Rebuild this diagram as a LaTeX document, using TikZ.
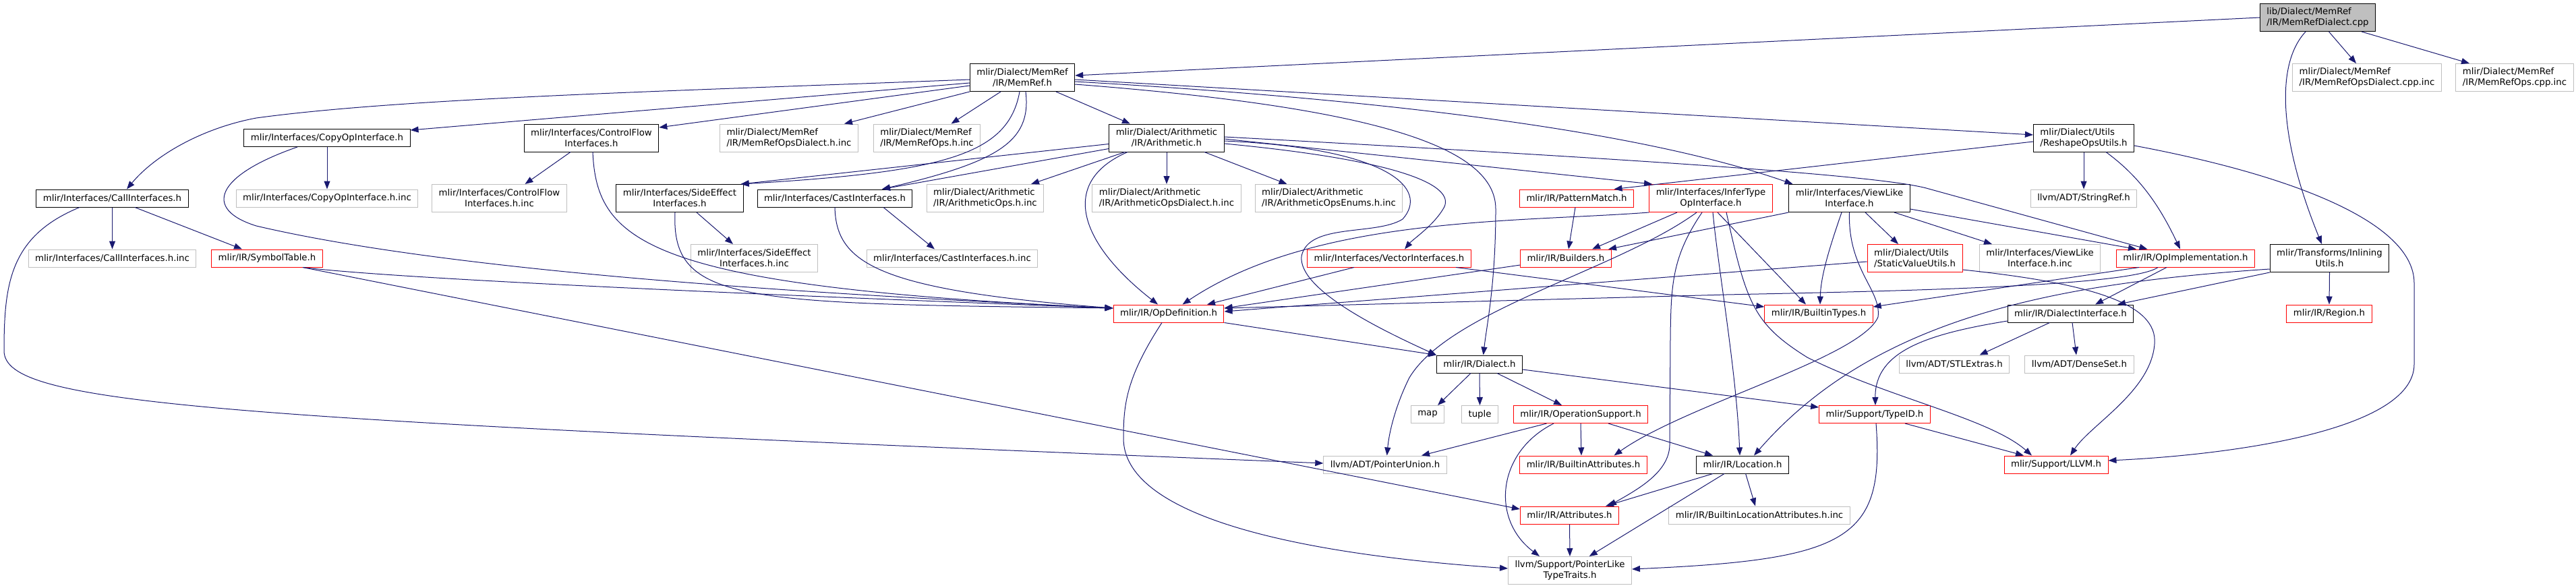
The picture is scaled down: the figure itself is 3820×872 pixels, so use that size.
\documentclass[tikz,border=0pt]{standalone}
\usepackage{fontspec}
\setmainfont{DejaVu Sans}
\usetikzlibrary{arrows.meta}
\definecolor{edgeblue}{HTML}{191970}
\definecolor{incgray}{HTML}{BFBFBF}
\definecolor{truncred}{HTML}{FF0000}

\begin{document}
\begin{tikzpicture}[
    x=1pt, y=-1pt,
    hdr/.style={rectangle, draw=black, line width=1pt, font=\fontsize{13.3}{16}\selectfont, inner xsep=10pt, inner ysep=4pt, minimum height=26pt, align=center},
    inc/.style={hdr, draw=incgray},
    trunc/.style={hdr, draw=truncred},
    srcfile/.style={hdr, fill=incgray},
    tall/.style={minimum height=41pt},
    lft/.style={align=left},
    dep/.style={-{Triangle[length=12pt, width=9pt]}, draw=edgeblue, line width=1pt},
]
\useasboundingbox (0,0) rectangle (3820,872);

% Files
\node[srcfile, tall, lft] (root) at (3437,26) {lib/Dialect/MemRef\\/IR/MemRefDialect.cpp};
\node[hdr, tall] (memref) at (1516,115) {mlir/Dialect/MemRef\\/IR/MemRef.h};
\node[inc, tall, lft] (opsDialCpp) at (3510,115) {mlir/Dialect/MemRef\\/IR/MemRefOpsDialect.cpp.inc};
\node[inc, tall, lft] (opsCpp) at (3729,115) {mlir/Dialect/MemRef\\/IR/MemRefOps.cpp.inc};

\node[hdr] (copyop) at (485,204.5) {mlir/Interfaces/CopyOpInterface.h};
\node[hdr, tall] (cflow) at (877,204.5) {mlir/Interfaces/ControlFlow\\Interfaces.h};
\node[inc, tall, lft] (opsDialH) at (1170,204.5) {mlir/Dialect/MemRef\\/IR/MemRefOpsDialect.h.inc};
\node[inc, tall, lft] (opsH) at (1374.5,204.5) {mlir/Dialect/MemRef\\/IR/MemRefOps.h.inc};
\node[hdr, tall] (arith) at (1730,204.5) {mlir/Dialect/Arithmetic\\/IR/Arithmetic.h};
\node[hdr, tall, lft] (reshape) at (3090,204.5) {mlir/Dialect/Utils\\/ReshapeOpsUtils.h};

\node[hdr] (callif) at (166.5,294) {mlir/Interfaces/CallInterfaces.h};
\node[inc] (copyopinc) at (485,294) {mlir/Interfaces/CopyOpInterface.h.inc};
\node[inc, tall] (cflowinc) at (740.5,294) {mlir/Interfaces/ControlFlow\\Interfaces.h.inc};
\node[hdr, tall] (sideeff) at (1008,294) {mlir/Interfaces/SideEffect\\Interfaces.h};
\node[hdr] (castif) at (1238,294) {mlir/Interfaces/CastInterfaces.h};
\node[inc, tall, lft] (arithOps) at (1461,294) {mlir/Dialect/Arithmetic\\/IR/ArithmeticOps.h.inc};
\node[inc, tall, lft] (arithDial) at (1730,294) {mlir/Dialect/Arithmetic\\/IR/ArithmeticOpsDialect.h.inc};
\node[inc, tall, lft] (arithEnums) at (1970.5,294) {mlir/Dialect/Arithmetic\\/IR/ArithmeticOpsEnums.h.inc};
\node[trunc] (patmatch) at (2338,294) {mlir/IR/PatternMatch.h};
\node[trunc, tall] (infer) at (2537,294) {mlir/Interfaces/InferType\\OpInterface.h};
\node[hdr, tall] (viewlike) at (2742.5,294) {mlir/Interfaces/ViewLike\\Interface.h};
\node[inc] (stringref) at (3090,294) {llvm/ADT/StringRef.h};

\node[inc] (callifinc) at (166.5,383) {mlir/Interfaces/CallInterfaces.h.inc};
\node[trunc] (symtab) at (396,383) {mlir/IR/SymbolTable.h};
\node[inc, tall] (sideeffinc) at (1118.5,383) {mlir/Interfaces/SideEffect\\Interfaces.h.inc};
\node[inc] (castifinc) at (1412,383) {mlir/Interfaces/CastInterfaces.h.inc};
\node[trunc] (vector) at (2060,383) {mlir/Interfaces/VectorInterfaces.h};
\node[trunc] (builders) at (2322,383) {mlir/IR/Builders.h};
\node[trunc, tall, lft] (staticval) at (2839.6,383) {mlir/Dialect/Utils\\/StaticValueUtils.h};
\node[inc, tall] (viewlikeinc) at (3025,383) {mlir/Interfaces/ViewLike\\Interface.h.inc};
\node[trunc] (opimpl) at (3241,383) {mlir/IR/OpImplementation.h};
\node[hdr, tall] (inlining) at (3454.5,383) {mlir/Transforms/Inlining\\Utils.h};

\node[trunc] (opdef) at (1733,465) {mlir/IR/OpDefinition.h};
\node[trunc] (btypes) at (2697,465) {mlir/IR/BuiltinTypes.h};
\node[hdr] (dialif) at (3070.5,465) {mlir/IR/DialectInterface.h};
\node[trunc] (region) at (3454,465) {mlir/IR/Region.h};

\node[hdr] (dialect) at (2194,540) {mlir/IR/Dialect.h};
\node[inc] (stlextras) at (2898,540) {llvm/ADT/STLExtras.h};
\node[inc] (denseset) at (3083.5,540) {llvm/ADT/DenseSet.h};

\node[inc] (map) at (2117,614.5) {map};
\node[inc] (tuple) at (2194.5,614.5) {tuple};
\node[trunc] (opsupport) at (2344,614.5) {mlir/IR/OperationSupport.h};
\node[trunc] (typeid) at (2780,614.5) {mlir/Support/TypeID.h};

\node[inc] (ptrunion) at (2054,689) {llvm/ADT/PointerUnion.h};
\node[trunc] (battrs) at (2348,689) {mlir/IR/BuiltinAttributes.h};
\node[hdr] (location) at (2584,689) {mlir/IR/Location.h};
\node[trunc] (llvm) at (3049,689) {mlir/Support/LLVM.h};

\node[trunc] (attrs) at (2327.5,764) {mlir/IR/Attributes.h};
\node[inc] (blocattrs) at (2609,764) {mlir/IR/BuiltinLocationAttributes.h.inc};
\node[inc, tall] (ptrlike) at (2328,846) {llvm/Support/PointerLike\\TypeTraits.h};

% Includes
% source file
\draw[dep] (root.west) -- ([yshift=3pt]memref.east);
\draw[dep] ([xshift=16.5pt]root.south) -- ([xshift=-16pt]opsDialCpp.north);
\draw[dep] ([xshift=65pt]root.south) -- ([xshift=-67pt]opsCpp.north);
\draw[dep] ([xshift=-18pt]root.south) .. controls (3370,100) and (3385,220) .. ([xshift=-11.5pt]inlining.north);

% MemRef.h
\draw[dep] ([yshift=-3pt]memref.west) .. controls (1000,135) and (600,145) .. (380,175) .. controls (300,190) and (230,230) .. ([xshift=21.5pt]callif.north);
\draw[dep] ([yshift=-8pt]memref.west) -- ([yshift=11.5pt]copyop.east);
\draw[dep] ([yshift=-12pt]memref.west) -- ([yshift=15.5pt]cflow.east);
\draw[dep] (memref.south west) -- ([xshift=82pt]opsDialH.north);
\draw[dep] ([xshift=-32pt]memref.south) -- ([xshift=36pt]opsH.north);
\draw[dep] ([xshift=-4pt]memref.south) .. controls (1495,230) and (1400,255) .. ([xshift=-4pt]sideeff.north east);
\draw[dep] ([xshift=5pt]memref.south) .. controls (1530,210) and (1480,240) .. ([xshift=70pt]castif.north);
\draw[dep] ([xshift=50pt]memref.south) -- ([xshift=-54pt]arith.north);
\draw[dep] ([yshift=-3pt]memref.east) -- ([yshift=4.5pt]reshape.west);
\draw[dep] ([yshift=-6pt]memref.east) .. controls (2100,150) and (2450,200) .. ([xshift=-84pt]viewlike.north);
\draw[dep] ([yshift=-10pt]memref.east) .. controls (2050,160) and (2218,220) .. (2218,310) .. controls (2218,420) and (2205,480) .. ([xshift=5.6pt]dialect.north);

% Arithmetic.h
\draw[dep] ([xshift=-62pt]arith.south) -- ([xshift=68pt]arithOps.north);
\draw[dep] (arith.south) -- (arithDial.north);
\draw[dep] ([xshift=56pt]arith.south) -- ([xshift=-62pt]arithEnums.north);
\draw[dep] ([yshift=-16pt]arith.west) -- ([xshift=70pt]castif.north);
\draw[dep] ([yshift=-9pt]arith.west) -- ([xshift=-4pt]sideeff.north east);
\draw[dep] ([xshift=-58pt]arith.south) .. controls (1570,270) and (1600,360) .. ([xshift=-16pt]opdef.north);
\draw[dep] ([yshift=1.5pt]arith.east) .. controls (2500,240) and (2800,262) .. (2860,280) -- ([xshift=-56.5pt]opimpl.north);
\draw[dep] ([yshift=-1.5pt]arith.east) -- ([xshift=-87pt]infer.north);
\draw[dep] ([yshift=-4.5pt]arith.east) .. controls (2060,220) and (2120,280) .. (2080,325) .. controls (2040,350) and (1940,330) .. (1930,380) .. controls (1925,430) and (2050,490) .. (dialect.north west);
\draw[dep] ([yshift=-8.5pt]arith.east) .. controls (2100,240) and (2160,280) .. (2140,310) .. controls (2125,335) and (2095,355) .. ([xshift=23pt]vector.north);

% interfaces
\draw[dep] (copyop.south) -- (copyopinc.north);
\draw[dep] ([xshift=-44pt]copyop.south) .. controls (320,260) and (300,310) .. (380,335) .. controls (700,410) and (1300,440) .. ([yshift=8pt]opdef.west);
\draw[dep] ([xshift=-31pt]cflow.south) -- ([xshift=38pt]cflowinc.north);
\draw[dep] ([xshift=2pt]cflow.south) .. controls (885,360) and (960,425) .. ([yshift=8pt]opdef.west);
\draw[dep] ([xshift=25pt]sideeff.south) -- ([xshift=-31.5pt]sideeffinc.north);
\draw[dep] ([xshift=-7pt]sideeff.south) .. controls (995,450) and (1100,450) .. ([yshift=8pt]opdef.west);
\draw[dep] ([xshift=72pt]castif.south) -- ([xshift=-26pt]castifinc.north);
\draw[dep] (castif.south) .. controls (1240,390) and (1300,430) .. ([yshift=8pt]opdef.west);
\draw[dep] (callif.south) -- (callifinc.north);
\draw[dep] ([xshift=33.5pt]callif.south) -- ([xshift=-37pt]symtab.north);
\draw[dep] ([xshift=-48.5pt]callif.south) .. controls (15,350) and (6,420) .. (6,520) .. controls (6,600) and (300,620) .. ([yshift=2pt]ptrunion.west);
\draw[dep] ([xshift=53pt]symtab.south) .. controls (600,415) and (1200,440) .. ([yshift=8pt]opdef.west);
\draw[dep] ([xshift=53pt]symtab.south) -- ([yshift=9pt]attrs.west);

% IR core
\draw[dep] (opdef.south east) -- (dialect.north west);
\draw[dep] ([xshift=-10pt]opdef.south) .. controls (1670,560) and (1666,600) .. (1666,650) .. controls (1666,760) and (1900,820) .. ([yshift=3pt]ptrlike.west);
\draw[dep] ([xshift=-13pt]dialect.south) -- ([xshift=15pt]map.north);
\draw[dep] (dialect.south) -- (tuple.north);
\draw[dep] ([xshift=26pt]dialect.south) -- ([xshift=-28pt]opsupport.north);
\draw[dep] ([yshift=-8pt]dialect.east) -- ([yshift=10.5pt]typeid.west);
\draw[dep] ([xshift=-50.5pt]opsupport.south) -- ([xshift=54pt]ptrunion.north);
\draw[dep] (opsupport.south) -- ([xshift=-3pt]battrs.north);
\draw[dep] ([xshift=41pt]opsupport.south) -- ([xshift=-44pt]location.north);
\draw[dep] ([xshift=-40pt]opsupport.south) .. controls (2220,670) and (2210,770) .. ([xshift=-45pt]ptrlike.north);
\draw[dep] ([xshift=-44pt]location.south) -- ([xshift=53.5pt]attrs.north);
\draw[dep] ([xshift=-27pt]location.south) -- ([xshift=28.7pt]ptrlike.north);
\draw[dep] ([xshift=4.6pt]location.south) -- ([xshift=-6pt]blocattrs.north);
\draw[dep] (attrs.south) -- (ptrlike.north);
\draw[dep] ([xshift=45pt]typeid.south) -- ([xshift=-48pt]llvm.north);
\draw[dep] ([xshift=2pt]typeid.south) .. controls (2795,800) and (2740,830) .. ([yshift=2pt]ptrlike.east);
\draw[dep] ([xshift=-31pt]dialif.south) -- ([xshift=37.5pt]stlextras.north);
\draw[dep] ([xshift=2.5pt]dialif.south) -- ([xshift=-4.5pt]denseset.north);
\draw[dep] ([yshift=-11pt]dialif.west) .. controls (2860,495) and (2780,520) .. ([xshift=1pt]typeid.north);

% ReshapeOpsUtils.h
\draw[dep] (reshape.south) -- (stringref.north);
\draw[dep] ([yshift=-5.5pt]reshape.west) -- ([xshift=55.5pt]patmatch.north);
\draw[dep] ([xshift=33pt]reshape.south) .. controls (3170,260) and (3200,300) .. ([xshift=-8pt]opimpl.north);
\draw[dep] ([yshift=-11.5pt]reshape.east) .. controls (3400,260) and (3580,330) .. (3580,420) -- (3580,540) .. controls (3580,640) and (3300,675) .. ([yshift=6pt]llvm.east);

% ViewLikeInterface.h
\draw[dep] ([xshift=23.5pt]viewlike.south) -- ([xshift=-24.6pt]staticval.north);
\draw[dep] ([xshift=66.5pt]viewlike.south) -- ([xshift=-71pt]viewlikeinc.north);
\draw[dep] ([yshift=-16pt]viewlike.east) -- ([xshift=-73pt]opimpl.north);
\draw[dep] (viewlike.south west) -- ([xshift=63pt]builders.north);
\draw[dep] ([xshift=-11.5pt]viewlike.south) .. controls (2712,370) and (2700,410) .. ([xshift=2pt]btypes.north);
\draw[dep] (viewlike.south) .. controls (2740,400) and (2790,430) .. (2785,470) .. controls (2760,530) and (2500,600) .. ([xshift=45.5pt]battrs.north);
\draw[dep] ([yshift=-5pt]staticval.west) -- ([yshift=3pt]opdef.east);
\draw[dep] ([yshift=-17pt]staticval.east) .. controls (3100,420) and (3200,450) .. (3195,510) .. controls (3190,580) and (3100,630) .. ([xshift=21pt]llvm.north);

% OpImplementation.h and InliningUtils.h
\draw[dep] ([xshift=-41pt]opimpl.south) .. controls (3160,425) and (2800,432) .. (2560,437) -- ([yshift=8pt]opdef.east);
\draw[dep] ([xshift=-69pt]opimpl.south) -- ([yshift=10pt]btypes.east);
\draw[dep] ([xshift=-28pt]opimpl.south) -- ([xshift=36.5pt]dialif.north);
\draw[dep] (inlining.south west) -- ([xshift=69.5pt]dialif.north);
\draw[dep] ([yshift=-16pt]inlining.west) .. controls (3050,420) and (2780,470) .. ([xshift=17pt]location.north);
\draw[dep] (inlining.south) -- (region.north);

% InferTypeOpInterface.h
\draw[dep] (infer.south west) .. controls (2250,330) and (1950,320) .. ([xshift=20.5pt]opdef.north);
\draw[dep] ([xshift=-50pt]infer.south) -- ([xshift=39pt]builders.north);
\draw[dep] ([xshift=-21pt]infer.south) .. controls (2400,400) and (2150,460) .. (2090,560) .. controls (2070,600) and (2060,640) .. ([xshift=2.7pt]ptrunion.north);
\draw[dep] ([xshift=-13pt]infer.south) .. controls (2480,380) and (2478,420) .. (2477,500) -- (2476,660) .. controls (2475,700) and (2430,725) .. ([xshift=57.5pt]attrs.north);
\draw[dep] ([xshift=3pt]infer.south) .. controls (2548,400) and (2575,550) .. ([xshift=-4pt]location.north);
\draw[dep] ([xshift=10pt]infer.south) -- ([xshift=-19pt]btypes.north);
\draw[dep] ([xshift=23pt]infer.south) .. controls (2590,450) and (2600,480) .. (2680,530) .. controls (2800,590) and (2950,620) .. ([xshift=-36pt]llvm.north);

% the rest
\draw[dep] ([xshift=-2pt]patmatch.south) -- ([xshift=4pt]builders.north);
\draw[dep] ([xshift=-52pt]vector.south) -- ([xshift=57pt]opdef.north);
\draw[dep] ([xshift=99pt]vector.south) -- ([yshift=10pt]btypes.west);
\draw[dep] ([yshift=-10pt]builders.west) -- ([yshift=8pt]opdef.east);

\end{tikzpicture}
\end{document}
